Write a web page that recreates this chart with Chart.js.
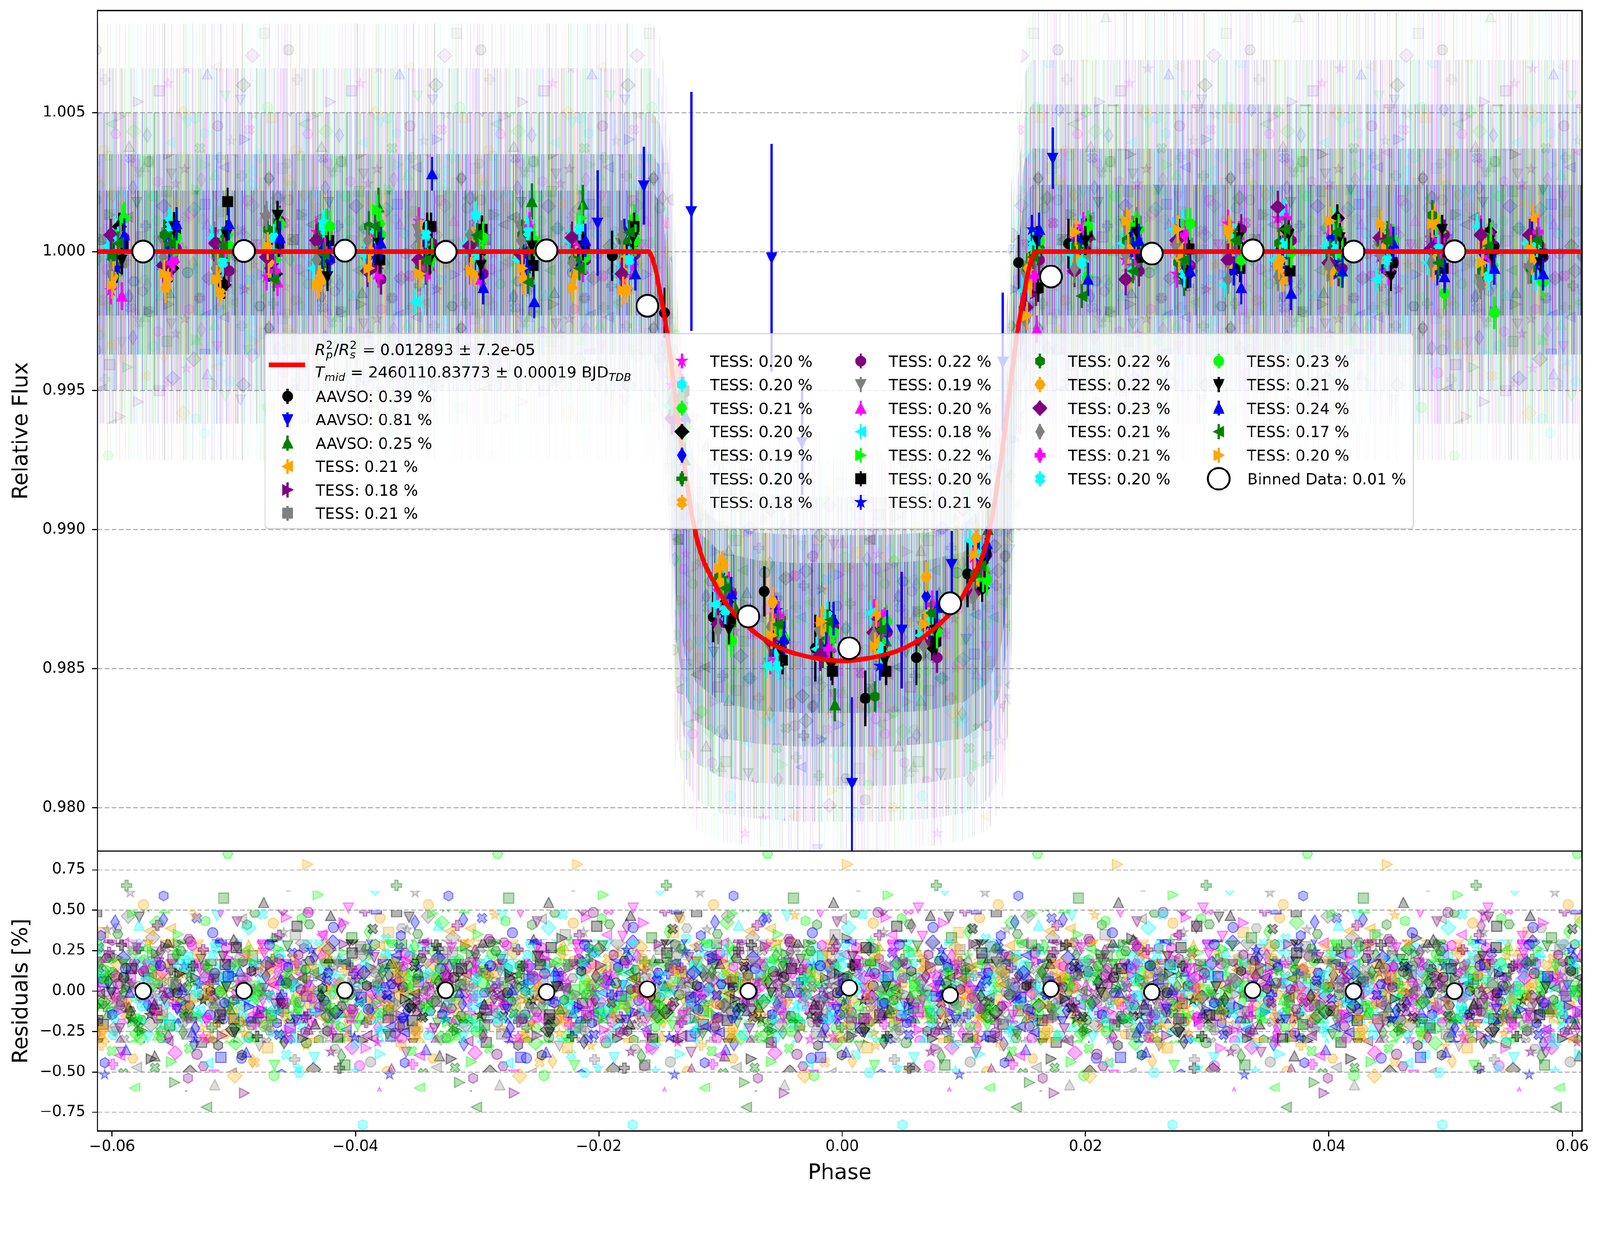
<!DOCTYPE html>
<html><head><meta charset="utf-8">
<script src="https://cdn.jsdelivr.net/npm/chart.js@4.4.1/dist/chart.umd.min.js"></script>
<style>
html,body{margin:0;padding:0;background:#fff;overflow:hidden;}
#wrap{position:absolute;left:0;top:0;width:4268px;height:3192px;overflow:hidden;background:#fff;transform-origin:0 0;}
canvas{position:absolute;left:0}
#c1{top:0}
#c2{top:2268px}
</style></head><body>
<div id="wrap"><canvas id="c1" width="4268" height="2272"></canvas><canvas id="c2" width="4268" height="924"></canvas></div>
<script>
// ================= DATA =================
const xTicks = [-0.06, -0.04, -0.02, 0, 0.02, 0.04, 0.06];
const fluxTicks = [0.980, 0.985, 0.990, 0.995, 1.000, 1.005];
const residTicks = [-0.75, -0.5, -0.25, 0, 0.25, 0.5, 0.75];
const phaseRange = [-0.0612, 0.0608];
const fluxRange = [0.97844, 1.00867];
const residRange = [-0.866, 0.866];

const seriesLabels = ['AAVSO: 0.39 %','AAVSO: 0.81 %','AAVSO: 0.25 %','TESS: 0.21 %','TESS: 0.18 %','TESS: 0.21 %','TESS: 0.20 %','TESS: 0.20 %','TESS: 0.21 %','TESS: 0.20 %','TESS: 0.19 %','TESS: 0.20 %','TESS: 0.18 %','TESS: 0.22 %','TESS: 0.19 %','TESS: 0.20 %','TESS: 0.18 %','TESS: 0.22 %','TESS: 0.20 %','TESS: 0.21 %','TESS: 0.22 %','TESS: 0.22 %','TESS: 0.23 %','TESS: 0.21 %','TESS: 0.21 %','TESS: 0.20 %','TESS: 0.23 %','TESS: 0.21 %','TESS: 0.24 %','TESS: 0.17 %','TESS: 0.20 %'];
const binnedLabel = 'Binned Data: 0.01 %';

// AAVSO series
const aavso1Phase = [-0.0189, -0.0146, -0.0106, -0.0064, -0.0022, 0.0019, 0.0061, 0.0103, 0.0145, 0.0186];
const aavso1Flux  = [0.99985, 0.99780, 0.98685, 0.98778, 0.98574, 0.98393, 0.98540, 0.98841, 0.99960, 1.00028];
const aavso1Err   = [0.0009, 0.0009, 0.0009, 0.0009, 0.0012, 0.0010, 0.0010, 0.0012, 0.0010, 0.0009];
const aavso2Phase = [-0.0201, -0.0163, -0.0124, -0.0058, -0.0033, 0.0008, 0.0049, 0.0090, 0.0132, 0.0173];
const aavso2Flux  = [1.00103, 1.00237, 1.00144, 0.99978, 0.99313, 0.98087, 0.98639, 0.98875, 0.99603, 1.00336];
const aavso2Err   = [0.0019, 0.0014, 0.0043, 0.0041, 0.0019, 0.0031, 0.0021, 0.0012, 0.0025, 0.0011];
const aavso3Phase = [-0.0381, -0.0339, -0.0297, -0.0255, -0.0213, -0.0171, -0.0129, -0.0088, -0.0047, -0.0006, 0.0036, 0.0078, 0.0120, 0.0162, 0.0204, 0.0246];
const aavso3Flux  = [1.0016, 1.0004, 0.9998, 1.0018, 1.0017, 1.0008, 0.9925, 0.9872, 0.9862, 0.9837, 0.9860, 0.9866, 0.9900, 1.0003, 1.0006, 0.9998];
const aavso3Err   = [0.0007, 0.0007, 0.0007, 0.00065, 0.0007, 0.0007, 0.0008, 0.0007, 0.0007, 0.0006, 0.0007, 0.0007, 0.0008, 0.0007, 0.0007, 0.0007];

// TESS series: common bin phases, per-series phase offset and error
const tessBinPhase = [-0.0596, -0.0553, -0.0510, -0.0468, -0.0427, -0.0385, -0.0343, -0.0301, -0.0259, -0.0217, -0.0176, -0.0135, -0.0097, -0.0054, -0.0013, 0.0031, 0.0072, 0.0113, 0.0156, 0.0196, 0.0238, 0.0280, 0.0322, 0.0363, 0.0405, 0.0447, 0.0489, 0.0530, 0.0570];
const tessOffset = [-0.0002, 0.0003, 0.0004, -0.0005, 0.0000, 0.0005, 0.0002, -0.0003, 0.0001, -0.0001, 0.0006, -0.0006, 0.0004, -0.0008, 0.0003, 0.0005, 0.0000, -0.0004, -0.0003, -0.0005, -0.0005, 0.0002, 0.0001, 0.0006, 0.0004, 0.0006, 0.0001, -0.0004];
const tessErr = [0.0005, 0.00045, 0.0005, 0.0005, 0.0005, 0.0005, 0.0005, 0.00048, 0.0005, 0.00045, 0.00055, 0.00048, 0.0005, 0.00045, 0.00055, 0.0005, 0.00052, 0.00055, 0.00055, 0.00058, 0.00052, 0.00052, 0.0005, 0.00058, 0.00052, 0.0006, 0.00043, 0.0005];
const tess03 = [0.9993, 0.9995, 0.9990, 1.0003, 0.9997, 1.0002, 0.9995, 1.0004, 0.9991, 1.0000, 0.9994, 0.9950, 0.9886, 0.9868, 0.9864, 0.9858, 0.9870, 0.9880, 0.9995, 1.0006, 1.0010, 1.0005, 0.9998, 1.0003, 1.0008, 1.0004, 1.0012, 0.9997, 1.0012];
const tess04 = [1.0006, 0.9996, 0.9994, 1.0004, 1.0001, 0.9994, 1.0002, 0.9997, 1.0003, 0.9999, 0.9996, 0.9938, 0.9879, 0.9862, 0.9856, 0.9864, 0.9860, 0.9888, 0.9985, 1.0002, 1.0006, 0.9994, 1.0001, 1.0004, 0.9992, 0.9995, 1.0001, 0.9998, 1.0002];
const tess05 = [0.9996, 1.0002, 0.9991, 1.0000, 1.0006, 0.9998, 1.0001, 0.9994, 1.0003, 1.0002, 0.9999, 0.9946, 0.9873, 0.9858, 0.9861, 0.9866, 0.9863, 0.9882, 0.9996, 0.9999, 1.0011, 1.0003, 0.9997, 1.0005, 1.0000, 0.9996, 1.0004, 0.9994, 1.0001];
const tess06 = [0.9986, 0.9993, 0.9999, 0.9991, 1.0007, 1.0001, 1.0011, 0.9993, 0.9996, 1.0002, 0.9990, 0.9952, 0.9878, 0.9853, 0.9866, 0.9870, 0.9864, 0.9890, 0.9980, 1.0005, 0.9997, 0.9992, 1.0010, 1.0012, 1.0006, 0.9998, 1.0003, 1.0008, 0.9995];
const tess07 = [1.0007, 1.0011, 1.0004, 0.9996, 1.0009, 1.0002, 0.9999, 1.0013, 1.0008, 0.9995, 1.0005, 0.9944, 0.9881, 0.9856, 0.9862, 0.9859, 0.9871, 0.9893, 1.0004, 1.0008, 1.0006, 1.0010, 0.9994, 1.0014, 1.0011, 1.0006, 0.9999, 1.0002, 0.9991];
const tess08 = [1.0012, 1.0001, 1.0006, 1.0009, 0.9998, 1.0010, 0.9997, 1.0007, 1.0004, 0.9998, 1.0012, 0.9936, 0.9869, 0.9857, 0.9852, 0.9864, 0.9872, 0.9885, 0.9990, 0.9991, 1.0003, 0.9996, 1.0006, 0.9999, 0.9992, 1.0005, 1.0001, 0.9995, 0.9989];
const tess09 = [1.0009, 0.9994, 0.9988, 0.9992, 1.0001, 1.0005, 1.0009, 0.9999, 1.0000, 0.9997, 1.0002, 0.9948, 0.9874, 0.9862, 0.9869, 0.9865, 0.9858, 0.9879, 0.9999, 1.0001, 1.0006, 0.9991, 1.0003, 1.0008, 1.0012, 0.9993, 1.0004, 1.0007, 1.0000];
const tess10 = [1.0003, 1.0006, 0.9997, 0.9994, 1.0002, 0.9999, 1.0004, 1.0001, 0.9998, 0.9993, 1.0007, 0.9940, 0.9884, 0.9859, 0.9855, 0.9868, 0.9876, 0.9895, 0.9993, 1.0004, 1.0000, 1.0007, 0.9996, 1.0001, 1.0005, 0.9997, 1.0003, 0.9999, 1.0006];
const tess11 = [0.9995, 1.0002, 1.0004, 1.0007, 0.9996, 1.0001, 0.9993, 1.0005, 0.9999, 1.0006, 0.9998, 0.9947, 0.9870, 0.9866, 0.9861, 0.9857, 0.9867, 0.9887, 1.0003, 1.0007, 0.9999, 0.9989, 1.0004, 1.0002, 0.9997, 1.0006, 0.9995, 1.0001, 1.0004];
const tess12 = [0.9998, 0.9991, 0.9985, 0.9993, 0.9990, 1.0004, 0.9998, 0.9992, 0.9993, 0.9996, 0.9986, 0.9955, 0.9888, 0.9866, 0.9867, 0.9860, 0.9868, 0.9884, 0.9988, 0.9996, 0.9991, 1.0002, 0.9995, 0.9990, 0.9999, 1.0003, 0.9996, 0.9992, 1.0000];
const tess13 = [1.0005, 1.0001, 0.9993, 1.0011, 0.9997, 0.9990, 1.0003, 0.9992, 1.0001, 0.9997, 0.9999, 0.9939, 0.9877, 0.9860, 0.9865, 0.9863, 0.9854, 0.9891, 0.9997, 1.0005, 0.9993, 0.9995, 1.0008, 1.0004, 0.9994, 0.9996, 1.0006, 1.0002, 0.9998];
const tess14 = [0.9999, 1.0004, 1.0006, 1.0012, 1.0001, 0.9996, 1.0008, 1.0000, 1.0009, 1.0005, 1.0003, 0.9943, 0.9872, 0.9858, 0.9863, 0.9861, 0.9865, 0.9878, 0.9992, 0.9998, 1.0010, 1.0001, 0.9999, 0.9993, 0.9994, 1.0002, 1.0004, 0.9990, 0.9993];
const tess15 = [0.9984, 0.9998, 1.0001, 0.9989, 1.0003, 0.9992, 0.9995, 0.9990, 1.0001, 0.9994, 0.9997, 0.9951, 0.9880, 0.9862, 0.9858, 0.9867, 0.9869, 0.9886, 0.9972, 1.0004, 1.0007, 0.9997, 1.0006, 0.9994, 1.0007, 1.0005, 0.9999, 1.0003, 1.0001];
const tess16 = [1.0002, 0.9995, 1.0005, 1.0000, 0.9994, 0.9999, 0.9982, 1.0003, 0.9997, 1.0004, 0.9992, 0.9945, 0.9873, 0.9851, 0.9857, 0.9870, 0.9862, 0.9896, 0.9986, 0.9999, 1.0003, 1.0008, 0.9988, 0.9997, 1.0002, 0.9990, 0.9996, 1.0009, 1.0003];
const tess17 = [1.0006, 0.9999, 1.0003, 0.9997, 1.0010, 1.0015, 1.0001, 0.9998, 1.0007, 1.0012, 0.9996, 0.9938, 0.9877, 0.9864, 0.9860, 0.9856, 0.9868, 0.9883, 1.0001, 1.0003, 1.0009, 1.0010, 1.0002, 0.9999, 1.0008, 0.9994, 1.0007, 1.0005, 1.0000];
const tess18 = [1.0002, 1.0006, 1.0018, 1.0003, 1.0004, 0.9997, 1.0009, 1.0008, 0.9995, 1.0001, 1.0009, 0.9950, 0.9868, 0.9853, 0.9849, 0.9849, 0.9860, 0.9892, 0.9987, 1.0007, 0.9998, 1.0001, 0.9994, 0.9993, 1.0003, 0.9996, 0.9994, 1.0001, 0.9999];
const tess19 = [0.9994, 1.0001, 0.9997, 0.9995, 0.9999, 1.0001, 1.0003, 0.9998, 0.9994, 0.9996, 1.0000, 0.9944, 0.9870, 0.9871, 0.9858, 0.9851, 0.9866, 0.9889, 1.0008, 1.0004, 1.0003, 0.9993, 0.9993, 0.9999, 0.9996, 1.0001, 0.9993, 0.9998, 0.9995];
const tess20 = [0.9998, 1.0006, 0.9999, 1.0008, 1.0005, 1.0009, 0.9995, 1.0002, 1.0006, 0.9997, 1.0004, 0.9942, 0.9883, 0.9861, 0.9856, 0.9840, 0.9859, 0.9884, 0.9994, 1.0002, 1.0004, 0.9996, 1.0007, 1.0003, 0.9999, 1.0003, 1.0013, 0.9993, 0.9994];
const tess21 = [0.9991, 0.9987, 0.9994, 0.9996, 0.9989, 1.0000, 1.0006, 1.0001, 0.9990, 0.9992, 0.9997, 0.9956, 0.9881, 0.9874, 0.9867, 0.9869, 0.9883, 0.9897, 0.9994, 0.9997, 1.0001, 0.9998, 1.0006, 0.9997, 0.9993, 1.0001, 0.9995, 1.0003, 0.9997];
const tess22 = [1.0006, 0.9995, 1.0003, 0.9998, 1.0004, 0.9993, 0.9997, 1.0002, 0.9999, 1.0005, 0.9992, 0.9940, 0.9866, 0.9860, 0.9855, 0.9863, 0.9859, 0.9877, 0.9980, 0.9993, 0.9990, 1.0004, 0.9997, 1.0016, 0.9996, 1.0005, 1.0001, 1.0006, 1.0006];
const tess23 = [0.9992, 0.9998, 0.9994, 1.0013, 0.9997, 1.0004, 1.0006, 1.0006, 1.0004, 0.9996, 1.0006, 0.9946, 0.9864, 0.9865, 0.9866, 0.9862, 0.9858, 0.9876, 0.9975, 0.9994, 0.9999, 1.0003, 0.9990, 0.9991, 0.9995, 0.9999, 0.9996, 0.9988, 0.9995];
const tess24 = [1.0004, 0.9996, 1.0002, 0.9993, 1.0000, 1.0006, 0.9994, 0.9998, 1.0009, 1.0003, 0.9995, 0.9953, 0.9876, 0.9869, 0.9857, 0.9866, 0.9873, 0.9887, 0.9991, 1.0009, 0.9995, 1.0006, 1.0001, 1.0012, 1.0003, 0.9993, 1.0004, 0.9998, 1.0007];
const tess25 = [1.0004, 1.0009, 0.9996, 1.0005, 1.0010, 1.0008, 1.0006, 0.9998, 1.0007, 1.0008, 0.9997, 0.9949, 0.9871, 0.9851, 0.9869, 0.9857, 0.9867, 0.9891, 1.0002, 0.9996, 0.9993, 0.9992, 1.0005, 1.0003, 1.0002, 0.9997, 1.0001, 0.9991, 1.0002];
const tess26 = [1.0012, 1.0005, 1.0002, 1.0010, 1.0009, 1.0006, 0.9999, 1.0005, 1.0004, 0.9998, 1.0004, 0.9937, 0.9860, 0.9861, 0.9863, 0.9867, 0.9863, 0.9882, 1.0004, 1.0009, 1.0008, 1.0010, 0.9997, 1.0000, 0.9999, 1.0004, 0.9985, 0.9978, 0.9989];
const tess27 = [0.9997, 1.0009, 1.0006, 1.0013, 0.9991, 1.0003, 0.9997, 0.9995, 1.0002, 1.0002, 1.0005, 0.9944, 0.9864, 0.9856, 0.9851, 0.9853, 0.9864, 0.9888, 1.0004, 1.0004, 1.0007, 0.9992, 1.0005, 1.0006, 1.0005, 0.9991, 1.0008, 0.9998, 0.9996];
const tess28 = [1.0006, 1.0010, 1.0010, 1.0005, 0.9998, 1.0003, 1.0028, 0.9987, 0.9982, 1.0004, 0.9992, 0.9941, 0.9877, 0.9861, 0.9868, 0.9865, 0.9872, 0.9895, 1.0008, 0.9990, 1.0004, 0.9993, 0.9987, 0.9985, 0.9993, 1.0003, 0.9991, 0.9994, 0.9992];
const tess29 = [1.0003, 1.0003, 1.0002, 0.9990, 0.9999, 1.0009, 0.9997, 1.0006, 0.9989, 0.9994, 1.0007, 0.9948, 0.9879, 0.9866, 0.9867, 0.9864, 0.9870, 0.9887, 0.9998, 0.9984, 0.9993, 0.9997, 1.0004, 1.0008, 1.0007, 1.0004, 0.9996, 1.0002, 1.0004];
const tess30 = [0.9988, 0.9992, 0.9990, 1.0002, 0.9988, 0.9994, 0.9992, 0.9993, 0.9994, 0.9987, 0.9986, 0.9957, 0.9886, 0.9862, 0.9867, 0.9858, 0.9866, 0.9891, 0.9977, 1.0007, 1.0011, 1.0008, 1.0008, 0.9995, 1.0011, 1.0010, 1.0010, 0.9996, 1.0001];

// transit model curve
const modelPhase = [-0.0612, -0.0159, -0.0156, -0.0153, -0.0150, -0.0147, -0.0144, -0.0140, -0.0136, -0.0132, -0.0128, -0.0125, -0.0122, -0.0119, -0.0115, -0.0110, -0.0104, -0.0097, -0.0088, -0.0076, -0.0062, -0.0046, -0.0030, -0.0015, 0.0000, 0.0015, 0.0030, 0.0046, 0.0062, 0.0076, 0.0088, 0.0097, 0.0104, 0.0110, 0.0115, 0.0119, 0.0122, 0.0125, 0.0128, 0.0132, 0.0136, 0.0140, 0.0144, 0.0147, 0.0150, 0.0153, 0.0156, 0.0159, 0.0608];
const modelFlux  = [1.0000, 1.0000, 0.99975, 0.9993, 0.9986, 0.9979, 0.9971, 0.9958, 0.9944, 0.9930, 0.9918, 0.9909, 0.9902, 0.9896, 0.9890, 0.9885, 0.9880, 0.98745, 0.98695, 0.98645, 0.9860, 0.98565, 0.98545, 0.98533, 0.98528, 0.98533, 0.98545, 0.98565, 0.9860, 0.98645, 0.98695, 0.98745, 0.9880, 0.9885, 0.9890, 0.9896, 0.9902, 0.9909, 0.9918, 0.9930, 0.9944, 0.9958, 0.9971, 0.9979, 0.9986, 0.9993, 0.99975, 1.0000, 1.0000];

// binned data (all series)
const binPhase = [-0.05745, -0.04916, -0.04087, -0.03258, -0.02429, -0.01600, -0.00771, 0.00058, 0.00887, 0.01716, 0.02545, 0.03374, 0.04203, 0.05032];
const binFlux  = [1.00000, 1.00002, 1.00003, 0.99999, 1.00004, 0.99805, 0.98688, 0.98573, 0.98735, 0.99910, 0.99993, 1.00004, 1.00000, 1.00001];
const binResid = [0.000, 0.002, 0.004, 0.005, -0.006, 0.012, 0.000, 0.020, -0.025, 0.013, -0.006, 0.005, -0.002, 0.000];

// envelopes of the cloud of unbinned points (flux), from faintest (1) to densest (5)
const cloudPhase = [-0.0612, -0.0156, -0.0150, -0.0145, -0.0141, -0.0137, -0.0130, -0.0120, -0.0100, -0.0070, -0.0035, 0.0000, 0.0035, 0.0070, 0.0100, 0.0120, 0.0130, 0.0137, 0.0141, 0.0145, 0.0150, 0.0156, 0.0608];
const cloud1Hi = [1.0082, 1.0082, 1.0078, 1.0062, 1.0037, 1.0007, 0.9960, 0.9947, 0.9939, 0.9936, 0.9935, 0.9935, 0.9935, 0.9936, 0.9939, 0.9947, 0.9960, 1.0007, 1.0037, 1.0062, 1.0080, 1.0086, 1.0086];
const cloud1Lo = [0.9925, 0.9925, 0.9918, 0.9905, 0.9885, 0.9815, 0.9800, 0.9792, 0.9788, 0.9786, 0.9785, 0.9785, 0.9785, 0.9786, 0.9788, 0.9792, 0.9800, 0.9815, 0.9885, 0.9905, 0.9918, 0.9925, 0.9925];
const cloud2Hi = [1.0066, 1.0066, 1.0062, 1.0046, 1.0021, 0.9992, 0.9950, 0.9937, 0.9929, 0.9926, 0.9925, 0.9925, 0.9925, 0.9926, 0.9929, 0.9937, 0.9950, 0.9992, 1.0021, 1.0046, 1.0064, 1.0069, 1.0069];
const cloud2Lo = [0.9938, 0.9938, 0.9931, 0.9918, 0.9898, 0.9828, 0.9812, 0.9803, 0.9798, 0.9796, 0.9795, 0.9795, 0.9795, 0.9796, 0.9798, 0.9803, 0.9812, 0.9828, 0.9898, 0.9918, 0.9931, 0.9938, 0.9938];
const cloud3Hi = [1.0050, 1.0050, 1.0046, 1.0030, 1.0006, 0.9978, 0.9937, 0.9924, 0.9916, 0.9913, 0.9912, 0.9912, 0.9912, 0.9913, 0.9916, 0.9924, 0.9937, 0.9978, 1.0006, 1.0030, 1.0048, 1.0053, 1.0053];
const cloud3Lo = [0.9950, 0.9950, 0.9943, 0.9930, 0.9911, 0.9845, 0.9826, 0.9816, 0.9811, 0.9809, 0.9808, 0.9808, 0.9808, 0.9809, 0.9811, 0.9816, 0.9826, 0.9845, 0.9911, 0.9930, 0.9943, 0.9950, 0.9950];
const cloud4Hi = [1.0035, 1.0035, 1.0031, 1.0016, 0.9993, 0.9965, 0.9923, 0.9910, 0.9902, 0.9899, 0.9898, 0.9898, 0.9898, 0.9899, 0.9902, 0.9910, 0.9923, 0.9965, 0.9993, 1.0016, 1.0033, 1.0037, 1.0037];
const cloud4Lo = [0.9963, 0.9963, 0.9956, 0.9944, 0.9925, 0.9862, 0.9842, 0.9831, 0.9825, 0.9823, 0.9822, 0.9822, 0.9822, 0.9823, 0.9825, 0.9831, 0.9842, 0.9862, 0.9925, 0.9944, 0.9956, 0.9963, 0.9963];
const cloud5Hi = [1.0022, 1.0022, 1.0018, 1.0004, 0.9982, 0.9955, 0.9913, 0.9900, 0.9892, 0.9889, 0.9888, 0.9888, 0.9888, 0.9889, 0.9892, 0.9900, 0.9913, 0.9955, 0.9982, 1.0004, 1.0020, 1.0024, 1.0024];
const cloud5Lo = [0.9977, 0.9977, 0.9970, 0.9958, 0.9940, 0.9878, 0.9856, 0.9845, 0.9838, 0.9835, 0.9834, 0.9834, 0.9834, 0.9835, 0.9838, 0.9845, 0.9856, 0.9878, 0.9940, 0.9958, 0.9970, 0.9977, 0.9977];

// envelopes of the residual cloud (%), faintest to densest
const residPhase = [-0.0612, 0.0608];
const resid1Hi = [0.87, 0.87], resid1Lo = [-0.87, -0.87];
const resid2Hi = [0.62, 0.62], resid2Lo = [-0.62, -0.62];
const resid3Hi = [0.50, 0.50], resid3Lo = [-0.50, -0.50];
const resid4Hi = [0.32, 0.32], resid4Lo = [-0.32, -0.32];
const resid5Hi = [0.20, 0.20], resid5Lo = [-0.20, -0.20];

// ================= STYLE =================
const FONT = 'DejaVu Sans';
const PALETTE = ['#000000','#0000ff','#008000','#ffa500','#800080','#808080','#ff00ff','#00ffff','#00ff00'];
const STRIPE_COLORS = ['#0000ff','#008000','#800080','#00ff00','#ff00ff','#808080','#00ffff','#ffa500','#0000ff','#008000','#000000','#800080','#00ff00','#808080','#ff00ff','#00ffff','#0000ff'];
const MARKERS = ['o','v','^','<','>','s','*','h','H','D','d','P','X'];
const STRIPE_ALPHA = [0.55,0.25,0.8,0.4,0.65,0.2,0.9,0.35,0.5,0.7,0.3,0.6,0.45,0.85,0.15,0.75,0.5,0.6,0.3];
Chart.defaults.font.family = FONT;
Chart.defaults.color = '#000';

// fit the 4268x3192 drawing into the browser viewport
(function () {
  const s = Math.min(window.innerWidth / 4268, window.innerHeight / 3192);
  if (s > 0 && Math.abs(s - 1) > 0.001) document.getElementById('wrap').style.transform = 'scale(' + s + ')';
})();

function markerPath(g, m, s) {
  const r = s / 2; g.beginPath();
  if (m === 'o') { g.arc(0, 0, r, 0, Math.PI * 2); return; }
  let pts = [];
  const d = r * Math.SQRT2, u = s / 6;
  const plus = [[-u,-3*u],[u,-3*u],[u,-u],[3*u,-u],[3*u,u],[u,u],[u,3*u],[-u,3*u],[-u,u],[-3*u,u],[-3*u,-u],[-u,-u]];
  switch (m) {
    case '^': pts = [[0,-r],[-r,r],[r,r]]; break;
    case 'v': pts = [[0,r],[-r,-r],[r,-r]]; break;
    case '<': pts = [[-r,0],[r,-r],[r,r]]; break;
    case '>': pts = [[r,0],[-r,-r],[-r,r]]; break;
    case 's': pts = [[-r,-r],[r,-r],[r,r],[-r,r]]; break;
    case 'D': pts = [[0,-d],[d,0],[0,d],[-d,0]]; break;
    case 'd': pts = [[0,-d],[0.6*d,0],[0,d],[-0.6*d,0]]; break;
    case '*': for (let k = 0; k < 10; k++) { const rr = k % 2 ? r * 0.381966 : r; const a = -Math.PI/2 + k*Math.PI/5; pts.push([rr*Math.cos(a), rr*Math.sin(a)]); } break;
    case 'h': for (let k = 0; k < 6; k++) { const a = -Math.PI/2 + k*Math.PI/3; pts.push([r*Math.cos(a), r*Math.sin(a)]); } break;
    case 'H': for (let k = 0; k < 6; k++) { const a = k*Math.PI/3; pts.push([r*Math.cos(a), r*Math.sin(a)]); } break;
    case 'P': pts = plus; break;
    case 'X': { const c = Math.SQRT1_2; pts = plus.map(p => [c*(p[0]-p[1]), c*(p[0]+p[1])]); break; }
  }
  g.moveTo(pts[0][0], pts[0][1]);
  for (let i = 1; i < pts.length; i++) g.lineTo(pts[i][0], pts[i][1]);
  g.closePath();
}
function makeMarker(m, color) {
  const c = document.createElement('canvas'); c.width = 64; c.height = 64;
  const g = c.getContext('2d'); g.translate(32, 32);
  markerPath(g, m, 25);
  g.fillStyle = color; g.fill();
  g.lineWidth = 4; g.strokeStyle = color; g.lineJoin = 'miter'; g.stroke();
  return c;
}
// low-discrepancy placement for the texture of the clouds
function radicalInverse(i, b) { let f = 1, r = 0; while (i > 0) { f /= b; r += f * (i % b); i = Math.floor(i / b); } return r; }
// texture for the dense clouds of faint points
function makeTile(w, h, stripeA, stripeDensity, nSpeck, speckA, shift) {
  const c = document.createElement('canvas'); c.width = w; c.height = h;
  const g = c.getContext('2d');
  if (stripeA > 0) {
    for (let k = 0, x = 0; x < w; x += 3, k++) {
      if (((k * 37 + shift * 11) % 100) >= stripeDensity * 100) continue;
      g.globalAlpha = STRIPE_ALPHA[(k + shift) % STRIPE_ALPHA.length] * stripeA;
      g.fillStyle = STRIPE_COLORS[(k + shift) % STRIPE_COLORS.length];
      g.fillRect(x, 0, 3, h);
    }
  }
  for (let k = 0; k < nSpeck; k++) {
    const idx = k + 1 + shift * 7;
    const px = radicalInverse(idx, 2) * w;
    const py = radicalInverse(idx, 3) * h;
    const m = MARKERS[(k + shift) % 13];
    const col = PALETTE[(Math.floor(k / 9) * 4 + Math.floor(k / 81) * 2 + k + shift) % 9];
    for (const dx of [-w, 0, w]) for (const dy of [-h, 0, h]) {
      const X = px + dx, Y = py + dy;
      if (X < -30 || X > w + 30 || Y < -30 || Y > h + 30) continue;
      g.save(); g.translate(X, Y); markerPath(g, m, 27);
      g.globalAlpha = speckA; g.fillStyle = col; g.fill();
      g.globalAlpha = Math.min(1, speckA * 1.5); g.lineWidth = 3; g.strokeStyle = col; g.stroke();
      g.restore();
    }
  }
  return g.createPattern(c, 'repeat');
}

const seriesPhase = [aavso1Phase, aavso2Phase, aavso3Phase];
const seriesFlux = [aavso1Flux, aavso2Flux, aavso3Flux];
const seriesErr = [aavso1Err, aavso2Err, aavso3Err];
const tessFlux = [tess03, tess04, tess05, tess06, tess07, tess08, tess09, tess10, tess11, tess12, tess13, tess14, tess15, tess16, tess17, tess18, tess19, tess20, tess21, tess22, tess23, tess24, tess25, tess26, tess27, tess28, tess29, tess30];
tessFlux.forEach((f, i) => {
  seriesPhase.push(tessBinPhase.map(p => p + tessOffset[i]));
  seriesFlux.push(f);
  seriesErr.push(f.map(() => tessErr[i]));
});

const markerImgs = seriesLabels.map((_, i) => makeMarker(MARKERS[i % 13], PALETTE[i % 9]));

function band(phases, hi, lo, pattern, order) {
  const common = { type: 'line', borderWidth: 0, borderColor: 'rgba(0,0,0,0)', pointRadius: 0, tension: 0, order };
  return [
    Object.assign({}, common, { data: phases.map((p, i) => ({ x: p, y: hi[i] })), fill: '+1', backgroundColor: pattern }),
    Object.assign({}, common, { data: phases.map((p, i) => ({ x: p, y: lo[i] })), fill: false })
  ];
}

// ---------- top panel datasets ----------
const topDatasets = [];
topDatasets.push(...band(cloudPhase, cloud1Hi, cloud1Lo, makeTile(513, 400, 0.16, 0.35, 10, 0.07, 0), 300));
topDatasets.push(...band(cloudPhase, cloud2Hi, cloud2Lo, makeTile(513, 400, 0.22, 0.55, 25, 0.08, 4), 299));
topDatasets.push(...band(cloudPhase, cloud3Hi, cloud3Lo, makeTile(513, 400, 0.30, 0.8, 40, 0.09, 9), 298));
topDatasets.push(...band(cloudPhase, cloud4Hi, cloud4Lo, makeTile(513, 400, 0.40, 1, 50, 0.10, 13), 297));
topDatasets.push(...band(cloudPhase, cloud5Hi, cloud5Lo, makeTile(513, 400, 0.48, 1, 60, 0.11, 7), 296));
seriesLabels.forEach((lab, i) => {
  topDatasets.push({
    type: 'scatter', label: lab,
    data: seriesPhase[i].map((p, j) => ({ x: p, y: seriesFlux[i][j] })),
    errorBars: seriesErr[i], errorColor: PALETTE[i % 9],
    pointStyle: markerImgs[i], pointRadius: 14, pointHoverRadius: 14,
    order: 100 - i
  });
});
topDatasets.push({
  type: 'line', label: 'model', data: modelPhase.map((p, i) => ({ x: p, y: modelFlux[i] })),
  borderColor: '#ff0000', borderWidth: 12, pointRadius: 0, fill: false, cubicInterpolationMode: 'monotone', order: 10
});
topDatasets.push({
  type: 'scatter', label: binnedLabel, data: binPhase.map((p, i) => ({ x: p, y: binFlux[i] })),
  pointStyle: 'circle', pointRadius: 29, backgroundColor: '#ffffff', borderColor: '#000000', borderWidth: 5, order: 5
});

// ---------- bottom panel datasets ----------
const botDatasets = [];
botDatasets.push(...band(residPhase, resid1Hi, resid1Lo, makeTile(720, 760, 0, 0, 16, 0.28, 3), 300));
botDatasets.push(...band(residPhase, resid2Hi, resid2Lo, makeTile(760, 720, 0, 0, 90, 0.28, 17), 299));
botDatasets.push(...band(residPhase, resid3Hi, resid3Lo, makeTile(800, 720, 0, 0, 380, 0.30, 41), 298));
botDatasets.push(...band(residPhase, resid4Hi, resid4Lo, makeTile(840, 720, 0, 0, 850, 0.34, 77), 297));
botDatasets.push(...band(residPhase, resid5Hi, resid5Lo, makeTile(880, 720, 0, 0, 900, 0.36, 113), 296));
botDatasets.push({
  type: 'scatter', data: binPhase.map((p, i) => ({ x: p, y: binResid[i] })),
  pointStyle: 'circle', pointRadius: 21, backgroundColor: '#ffffff', borderColor: '#000000', borderWidth: 4.5, order: 5
});

// ---------- plugins ----------
const errorBarPlugin = {
  id: 'errorBars',
  beforeDatasetDraw(chart, args) {
    const ds = chart.data.datasets[args.index];
    if (!ds.errorBars) return;
    const ctx = chart.ctx, a = chart.chartArea, ys = chart.scales.y;
    ctx.save();
    ctx.beginPath(); ctx.rect(a.left, a.top, a.right - a.left, a.bottom - a.top); ctx.clip();
    ctx.strokeStyle = ds.errorColor; ctx.lineWidth = 6; ctx.lineCap = 'butt';
    ctx.beginPath();
    args.meta.data.forEach((el, j) => {
      const v = ds.data[j].y, e = ds.errorBars[j];
      ctx.moveTo(el.x, ys.getPixelForValue(v + e));
      ctx.lineTo(el.x, ys.getPixelForValue(v - e));
    });
    ctx.stroke(); ctx.restore();
  }
};
const framePlugin = {
  id: 'frame',
  afterDatasetsDraw(chart) {
    const { ctx, chartArea: a } = chart;
    ctx.save(); ctx.strokeStyle = '#000'; ctx.lineWidth = 3.5;
    ctx.strokeRect(a.left, a.top, a.right - a.left, a.bottom - a.top);
    ctx.restore();
  }
};
function drawModelLabel(ctx, x, b1, b2) {
  const big = '41px "' + FONT + '"', ibig = 'italic 41px "' + FONT + '"';
  const sm = '29px "' + FONT + '"', ism = 'italic 29px "' + FONT + '"';
  ctx.fillStyle = '#000'; ctx.textBaseline = 'alphabetic'; ctx.textAlign = 'left';
  const put = (t, f, xx, yy) => { ctx.font = f; ctx.fillText(t, xx, yy); return ctx.measureText(t).width; };
  let cx = x;
  cx += put('R', ibig, cx, b1) + 1;
  let w1 = put('2', sm, cx, b1 - 17), w2 = put('p', ism, cx, b1 + 9);
  cx += Math.max(w1, w2) + 2;
  cx += put('/', big, cx, b1);
  cx += put('R', ibig, cx, b1) + 1;
  w1 = put('2', sm, cx, b1 - 17); w2 = put('s', ism, cx, b1 + 9);
  cx += Math.max(w1, w2) + 2;
  put(' = 0.012893 \u00b1 7.2e-05', big, cx, b1);
  cx = x;
  cx += put('T', ibig, cx, b2) + 1;
  cx += put('mid', ism, cx, b2 + 9) + 1;
  cx += put(' = 2460110.83773 \u00b1 0.00019 BJD', big, cx, b2);
  put('TDB', ism, cx + 1, b2 + 9);
}
const legendPlugin = {
  id: 'customLegend',
  afterDraw(chart) {
    const ctx = chart.ctx;
    ctx.save();
    const bx = 707, by = 890, bw = 3063, bh = 520, br = 10;
    ctx.beginPath();
    ctx.moveTo(bx + br, by); ctx.lineTo(bx + bw - br, by); ctx.quadraticCurveTo(bx + bw, by, bx + bw, by + br);
    ctx.lineTo(bx + bw, by + bh - br); ctx.quadraticCurveTo(bx + bw, by + bh, bx + bw - br, by + bh);
    ctx.lineTo(bx + br, by + bh); ctx.quadraticCurveTo(bx, by + bh, bx, by + bh - br);
    ctx.lineTo(bx, by + br); ctx.quadraticCurveTo(bx, by, bx + br, by); ctx.closePath();
    ctx.fillStyle = 'rgba(255,255,255,0.8)'; ctx.fill();
    ctx.strokeStyle = 'rgba(204,204,204,0.8)'; ctx.lineWidth = 3; ctx.stroke();

    ctx.strokeStyle = '#ff0000'; ctx.lineWidth = 12; ctx.lineCap = 'butt';
    ctx.beginPath(); ctx.moveTo(717, 973); ctx.lineTo(814, 973); ctx.stroke();
    drawModelLabel(ctx, 840, 947, 1007);

    const colX = [767, 1819, 2296, 2774, 3251];
    ctx.font = '41px "' + FONT + '"'; ctx.textBaseline = 'alphabetic'; ctx.textAlign = 'left';
    seriesLabels.forEach((lab, i) => {
      let col, row, cy;
      if (i < 6) { col = 0; row = i; cy = 1057 + row * 62.4; }
      else if (i < 13) { col = 1; row = i - 6; cy = 963 + row * 62.8; }
      else if (i < 20) { col = 2; row = i - 13; cy = 963 + row * 62.8; }
      else if (i < 26) { col = 3; row = i - 20; cy = 963 + row * 62.8; }
      else { col = 4; row = i - 26; cy = 963 + row * 62.8; }
      const x = colX[col];
      ctx.strokeStyle = PALETTE[i % 9]; ctx.lineWidth = 6;
      ctx.beginPath(); ctx.moveTo(x, cy - 20); ctx.lineTo(x, cy + 20); ctx.stroke();
      ctx.drawImage(markerImgs[i], x - 32, cy - 32);
      ctx.fillStyle = '#000';
      ctx.fillText(lab, x + 75, cy + 15);
    });
    const bcy = 963 + 5 * 62.8;
    ctx.beginPath(); ctx.arc(3251, bcy, 29, 0, Math.PI * 2);
    ctx.fillStyle = '#fff'; ctx.fill(); ctx.strokeStyle = '#000'; ctx.lineWidth = 5; ctx.stroke();
    ctx.fillStyle = '#000'; ctx.fillText(binnedLabel, 3251 + 76, bcy + 15);
    ctx.restore();
  }
};

const minusFmt = (v, d) => (v < 0 ? '\u2212' : '') + Math.abs(v).toFixed(d);
function yAxis(min, max, ticks, fmt, title) {
  return {
    type: 'linear', min, max,
    afterFit: s => { s.width = 260; s.paddingTop = 0; s.paddingBottom = 0; },
    afterBuildTicks: s => { s.ticks = ticks.map(v => ({ value: v })); },
    ticks: { font: { size: 40, family: FONT }, color: '#000', padding: 18, autoSkip: false, callback: fmt },
    grid: { color: '#b2b2b2', lineWidth: 3, drawTicks: true, tickLength: 14, tickColor: '#000', tickWidth: 3 },
    border: { display: false, dash: [13, 6] },
    title: { display: true, text: title, font: { size: 57, family: FONT }, color: '#000', padding: { top: 24, bottom: 0 } }
  };
}

new Chart(document.getElementById('c1'), {
  type: 'scatter',
  data: { datasets: topDatasets },
  options: {
    responsive: false, animation: false, devicePixelRatio: 1, events: [],
    layout: { autoPadding: false, padding: { left: 0, right: 48, top: 28, bottom: 2 } },
    plugins: { legend: { display: false }, tooltip: { enabled: false } },
    scales: {
      x: { type: 'linear', min: phaseRange[0], max: phaseRange[1], display: false },
      y: yAxis(fluxRange[0], fluxRange[1], fluxTicks, v => v.toFixed(3), 'Relative Flux')
    }
  },
  plugins: [errorBarPlugin, framePlugin, legendPlugin]
});

new Chart(document.getElementById('c2'), {
  type: 'scatter',
  data: { datasets: botDatasets },
  options: {
    responsive: false, animation: false, devicePixelRatio: 1, events: [],
    layout: { autoPadding: false, padding: { left: 0, right: 48, top: 2, bottom: 0 } },
    plugins: { legend: { display: false }, tooltip: { enabled: false } },
    scales: {
      x: {
        type: 'linear', min: phaseRange[0], max: phaseRange[1],
        afterFit: s => { s.height = 175; s.paddingLeft = 0; s.paddingRight = 0; },
        afterBuildTicks: s => { s.ticks = xTicks.map(v => ({ value: v })); },
        ticks: { font: { size: 40, family: FONT }, color: '#000', padding: 5, autoSkip: false, maxRotation: 0, callback: v => minusFmt(v, 2) },
        grid: { drawOnChartArea: false, drawTicks: true, tickLength: 14, tickColor: '#000', tickWidth: 3 },
        border: { display: false },
        title: { display: true, text: 'Phase', font: { size: 57, family: FONT }, color: '#000', padding: { top: 0, bottom: 28 } }
      },
      y: yAxis(residRange[0], residRange[1], residTicks, v => minusFmt(v, 2), 'Residuals [%]')
    }
  },
  plugins: [framePlugin]
});
</script>
</body></html>
